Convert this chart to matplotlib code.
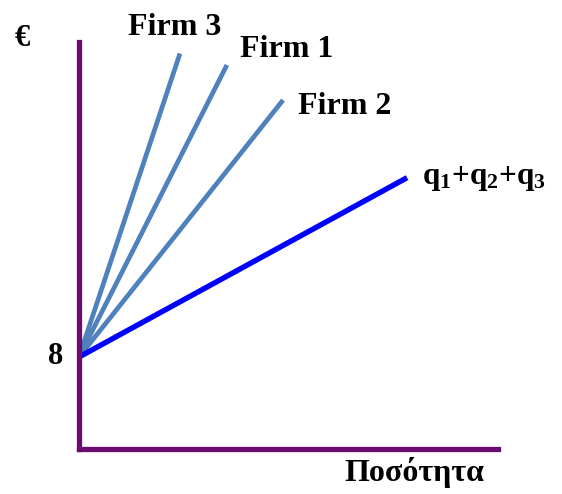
import matplotlib
matplotlib.use("Agg")
import matplotlib.pyplot as plt

plt.rcParams['font.family'] = ['Liberation Serif', 'DejaVu Serif']
plt.rcParams['mathtext.fontset'] = 'custom'
plt.rcParams['mathtext.rm'] = 'Liberation Serif:bold'
plt.rcParams['mathtext.bf'] = 'Liberation Serif:bold'
plt.rcParams['mathtext.it'] = 'Liberation Serif:bold'

# data
intercept = 8
series_names = ["Firm 3", "Firm 1", "Firm 2", "q1+q2+q3"]
x_end = [2.41, 3.53, 4.87, 7.83]
y_end = [34.4, 33.4, 30.35, 23.6]
colors = ["#4f81bd", "#4f81bd", "#4f81bd", "#0000ff"]
widths = [3.4, 3.4, 3.4, 3.9]

W, H = 562, 494
fig = plt.figure(figsize=(W / 100, H / 100), dpi=100)
ax = fig.add_axes([79 / W, 1 - 449 / H, 419 / W, 407 / H])
ax.set_xlim(0, 10)
ax.set_ylim(0, 35.4)

for xe, ye, c, lw in zip(x_end, y_end, colors, widths):
    ax.plot([0, xe], [intercept, ye], color=c, lw=lw, solid_capstyle='butt', clip_on=False)

purple = "#6b0a6f"
for s in ['top', 'right']:
    ax.spines[s].set_visible(False)
for s in ['left', 'bottom']:
    ax.spines[s].set_color(purple)
    ax.spines[s].set_linewidth(3.8)
    ax.spines[s].set_capstyle('projecting')
ax.set_xticks([])
ax.set_yticks([])

def ftext(x, y, s, size=23, ha='center'):
    fig.text(x / W, 1 - y / H, s, fontsize=size, fontweight='bold', ha=ha, va='baseline')

ftext(175, 35, "Firm 3")
ftext(287, 57, "Firm 1")
ftext(345, 114, "Firm 2")
ftext(422, 184, r'$\mathbf{q_1{+}q_2{+}q_3}$', size=22.5, ha='left')
ftext(56, 364, "8", size=22)
ftext(22, 46, "€", size=22)
ftext(414, 481, "Ποσότητα")

fig.savefig("out.png", dpi=100)
